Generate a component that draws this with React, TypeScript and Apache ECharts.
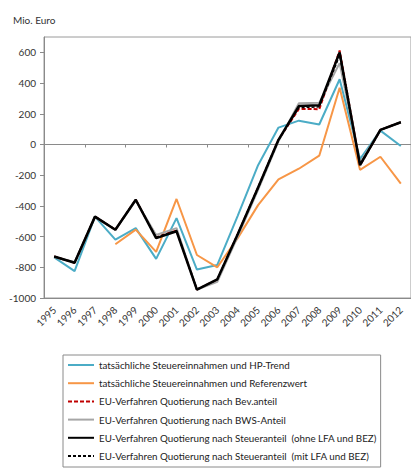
import React, { useEffect, useRef } from "react";
import * as echarts from "echarts";

const years = ["1995","1996","1997","1998","1999","2000","2001","2002","2003","2004","2005","2006","2007","2008","2009","2010","2011","2012"];
const hpTrend = [-735, -825, -470, -620, -545, -745, -480, -815, -785, -465, -135, 110, 155, 130, 425, -95, 90, -10];
const referenzwert = [null, null, null, -650, -555, -700, -355, -720, -800, -610, -395, -228, -158, -73, 370, -165, -80, -255];
const bevAnteil = [-730, -770, -470, -555, -360, -605, -560, -945, -880, -585, -280, 30, 232, 230, 612, -135, 95, 145];
const bwsAnteil = [-735, -765, -475, -555, -365, -590, -545, -945, -895, -600, -295, 20, 268, 272, 530, -120, 95, 145];
const steuerOhne = [-730, -770, -470, -555, -360, -610, -565, -945, -878, -585, -280, 30, 250, 255, 600, -135, 95, 145];
const steuerMit = [-730, -770, -470, -555, -360, -605, -560, -945, -880, -585, -285, 28, 240, 245, 580, -130, 95, 145];
const yTicks = [-1000, -800, -600, -400, -200, 0, 200, 400, 600];

const names = [
  "tatsächliche Steuereinnahmen und HP-Trend",
  "tatsächliche Steuereinnahmen und Referenzwert",
  "EU-Verfahren Quotierung nach Bev.anteil",
  "EU-Verfahren Quotierung nach BWS-Anteil",
  "EU-Verfahren Quotierung nach Steueranteil  (ohne LFA und BEZ)",
  "EU-Verfahren Quotierung nach Steueranteil  (mit LFA und BEZ)",
];

const FONT = "Lato, 'Noto Sans', sans-serif";

export default function App() {
  const ref = useRef<HTMLDivElement>(null);
  useEffect(() => {
    if (!ref.current) return;
    const chart = echarts.init(ref.current, null, { renderer: "svg" });
    const line = (name: string, data: any[], color: string, width: number, type: any) => ({
      name,
      type: "line",
      data,
      symbol: "none",
      connectNulls: false,
      xAxisIndex: 0,
      lineStyle: { color, width, type },
      itemStyle: { color },
    });
    chart.setOption({
      animation: false,
      textStyle: { fontFamily: FONT },
      title: {
        text: "Mio. Euro",
        left: 8,
        top: 10,
        textStyle: { fontSize: 10, fontWeight: "normal", color: "#333", fontFamily: FONT },
      },
      grid: {
        left: 44,
        top: 37,
        right: -13,
        bottom: 170,
        show: true,
        borderColor: "#9a9a9a",
        borderWidth: 1,
      },
      xAxis: [
        {
          type: "category",
          data: years,
          boundaryGap: true,
          position: "bottom",
          axisLine: { onZero: false, lineStyle: { color: "#8a8a8a" } },
          axisTick: { show: false },
          axisLabel: { rotate: 45, margin: 10, fontSize: 10, color: "#333", fontFamily: FONT, interval: 0 },
        },
        {
          type: "category",
          data: years,
          boundaryGap: true,
          position: "bottom",
          axisLine: { show: true, onZero: true, lineStyle: { color: "#8a8a8a" } },
          axisTick: { show: true, length: 3, inside: false, lineStyle: { color: "#8a8a8a" } },
          axisLabel: { show: false },
        },
      ],
      yAxis: {
        type: "value",
        min: -1000,
        max: 700,
        interval: 100,
        axisLine: { show: true, lineStyle: { color: "#8a8a8a" } },
        axisTick: { show: true, length: 4, lineStyle: { color: "#8a8a8a" }, customValues: yTicks },
        axisLabel: {
          fontSize: 10,
          color: "#333",
          margin: 8,
          fontFamily: FONT,
          customValues: yTicks,
          formatter: (v: number) => String(v),
        },
        splitLine: { show: false },
      },
      legend: {
        orient: "vertical",
        left: 63,
        top: 355,
        height: 130,
        itemWidth: 26,
        itemHeight: 10,
        itemGap: 8.2,
        padding: [5, 4, 6, 4],
        borderColor: "#8a8a8a",
        borderWidth: 1,
        itemStyle: { opacity: 0 },
        textStyle: { fontSize: 9.8, color: "#222", fontFamily: FONT },
        data: names,
      },
      series: [
        line(names[0], hpTrend, "#4BACC6", 2, "solid"),
        line(names[1], referenzwert, "#F79646", 2, "solid"),
        line(names[2], bevAnteil, "#C00000", 2, [4, 2]),
        line(names[3], bwsAnteil, "#A6A6A6", 2, "solid"),
        line(names[4], steuerOhne, "#000000", 2.5, "solid"),
        line(names[5], steuerMit, "#000000", 1.5, [3, 2]),
      ],
    });
    return () => chart.dispose();
  }, []);
  return <div ref={ref} style={{ position: "absolute", left: 0, top: 0, width: 411, height: 468 }} />;
}
